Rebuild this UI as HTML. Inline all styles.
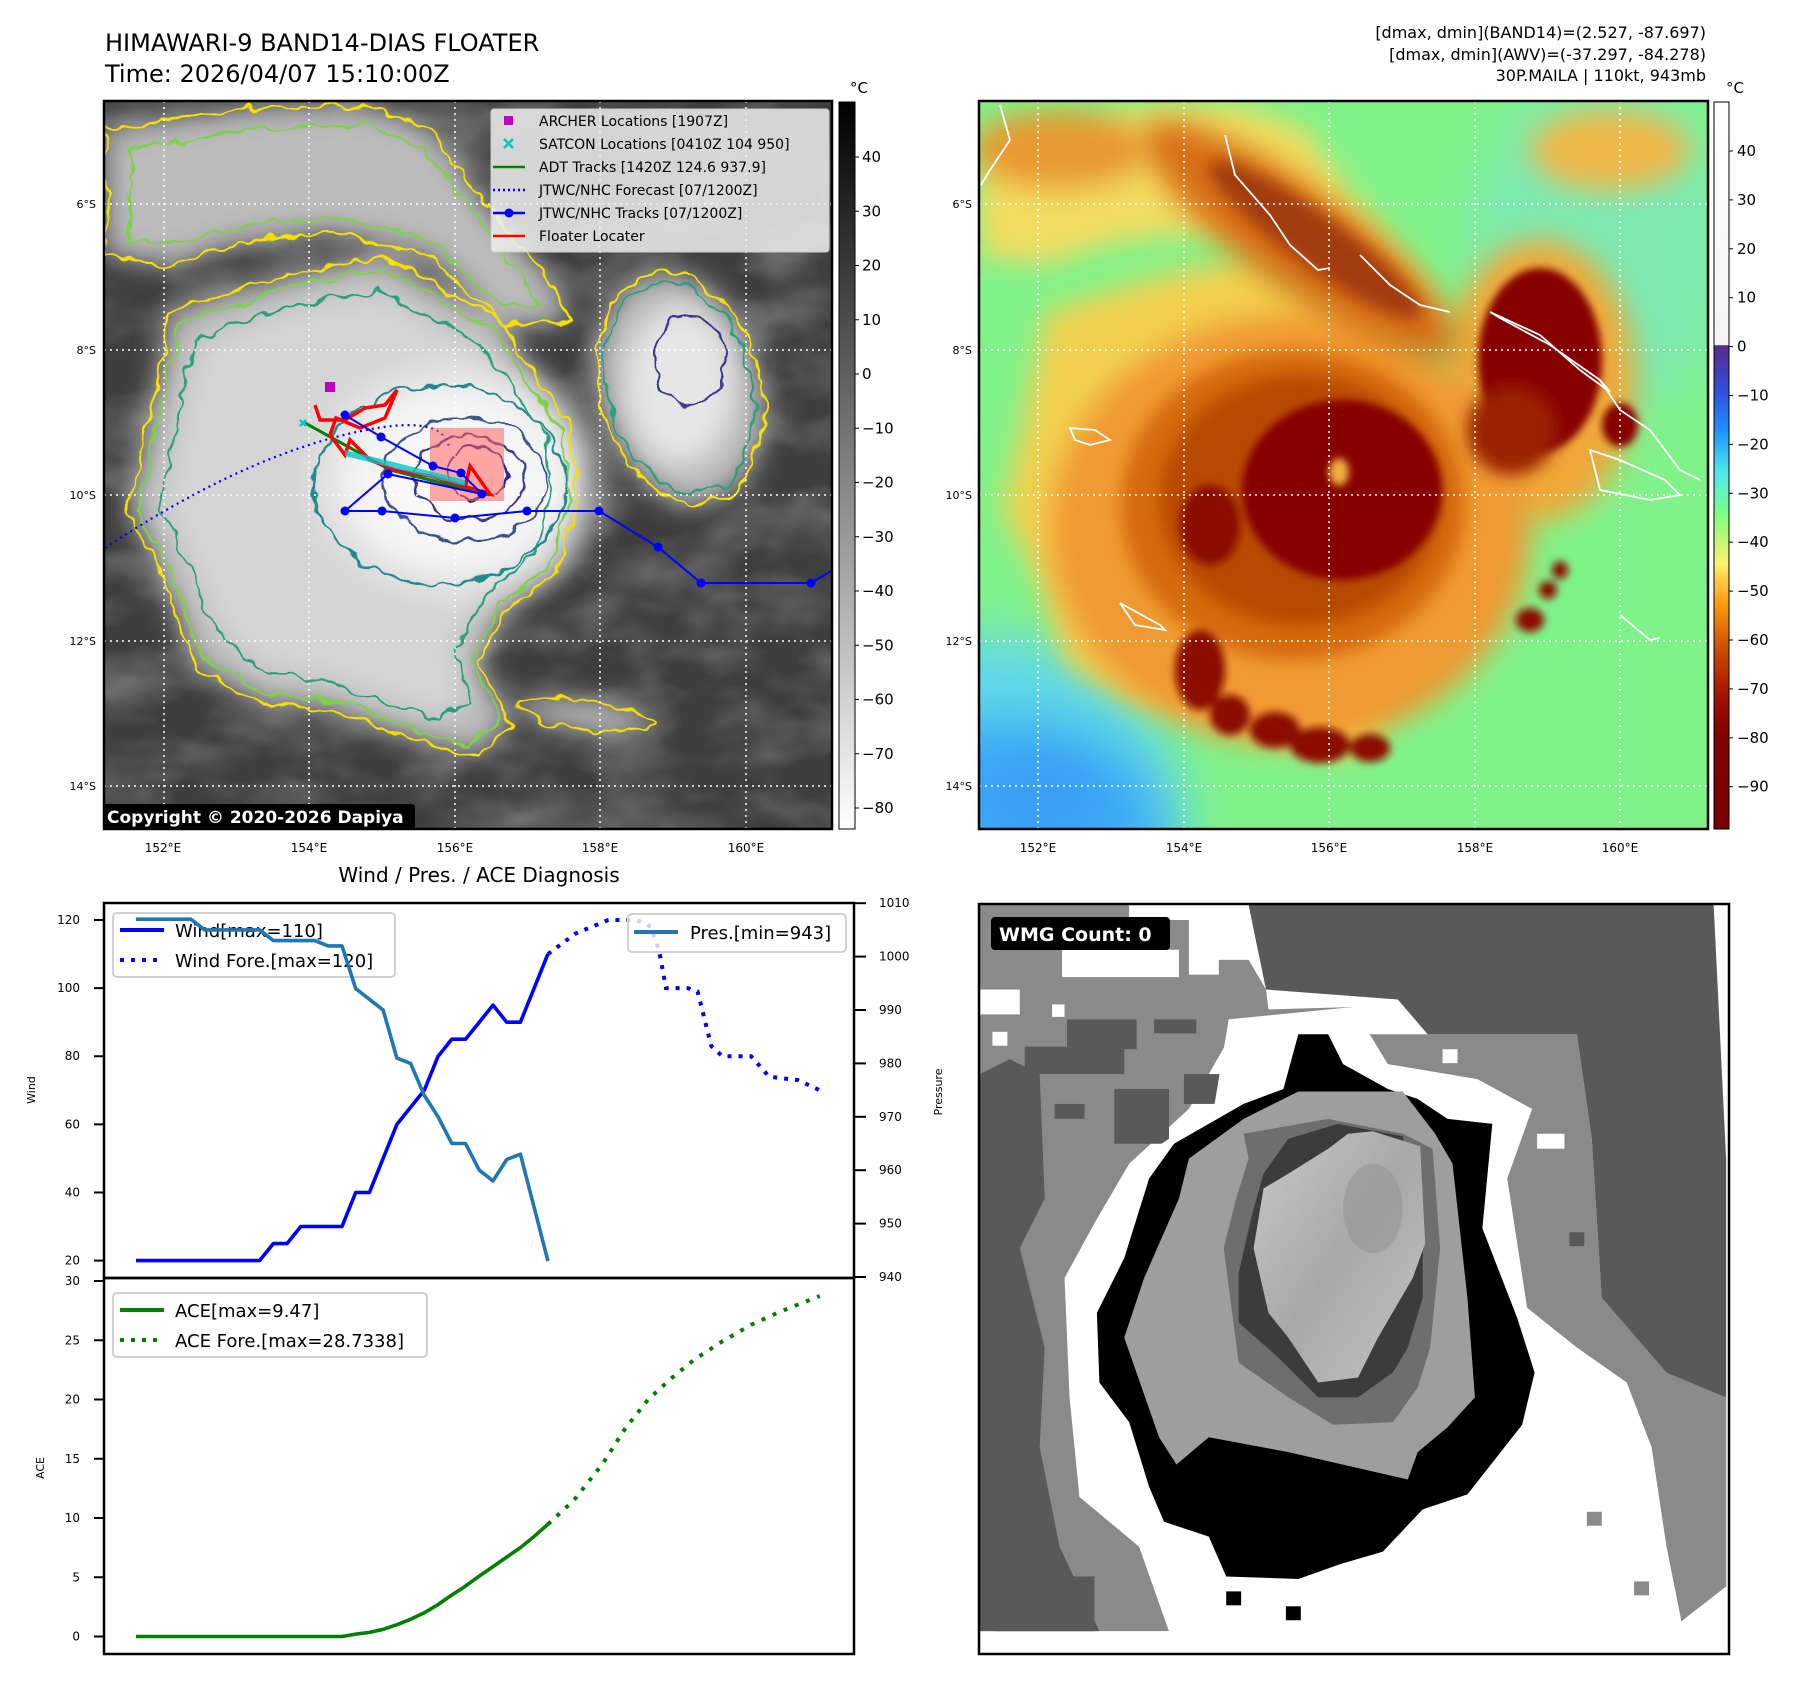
<!DOCTYPE html>
<html><head><meta charset="utf-8"><style>
html,body{margin:0;padding:0;background:#fff;}
svg{display:block;font-family:"DejaVu Sans","Liberation Sans",sans-serif;}
</style></head><body>
<svg id="root" width="1797" height="1690" viewBox="0 0 1797 1690" xmlns="http://www.w3.org/2000/svg">
<defs>
  <clipPath id="clipM1"><rect x="104" y="101" width="728" height="728"/></clipPath>
  <clipPath id="clipM2"><rect x="979" y="101" width="729" height="728"/></clipPath>
  <clipPath id="clipBR"><rect x="979" y="904" width="750" height="750"/></clipPath>
  <filter id="b4" x="-30%" y="-30%" width="160%" height="160%"><feGaussianBlur stdDeviation="4"/></filter>
  <filter id="b8" x="-30%" y="-30%" width="160%" height="160%"><feGaussianBlur stdDeviation="8"/></filter>
  <filter id="b14" x="-40%" y="-40%" width="180%" height="180%"><feGaussianBlur stdDeviation="14"/></filter>
  <filter id="b25" x="-50%" y="-50%" width="200%" height="200%"><feGaussianBlur stdDeviation="25"/></filter>
  <filter id="wig" x="-10%" y="-10%" width="120%" height="120%">
    <feTurbulence type="fractalNoise" baseFrequency="0.05" numOctaves="2" seed="4"/>
    <feDisplacementMap in="SourceGraphic" scale="16" xChannelSelector="R" yChannelSelector="G"/>
  </filter>
  <filter id="tex" x="0" y="0" width="100%" height="100%">
    <feTurbulence type="fractalNoise" baseFrequency="0.012 0.02" numOctaves="3" seed="9"/>
    <feColorMatrix type="matrix" values="0 0 0 0 0.75  0 0 0 0 0.75  0 0 0 0 0.75  0.8 0.8 0 0 -0.65"/>
  </filter>
  <radialGradient id="core1" cx="0.5" cy="0.5" r="0.5">
    <stop offset="0" stop-color="#ffffff"/><stop offset="0.6" stop-color="#f2f2f2"/><stop offset="1" stop-color="#e0e0e0" stop-opacity="0"/>
  </radialGradient>
  <linearGradient id="cb1" x1="0" y1="0" x2="0" y2="1">
    <stop offset="0" stop-color="#000"/><stop offset="1" stop-color="#fff"/>
  </linearGradient>
  <linearGradient id="cb2" x1="0" y1="0" x2="0" y2="1">
    <stop offset="0" stop-color="#ffffff"/><stop offset="0.334" stop-color="#f4f4f4"/>
    <stop offset="0.335" stop-color="#5a2a8c"/><stop offset="0.40" stop-color="#3050e0"/>
    <stop offset="0.45" stop-color="#1e90ff"/><stop offset="0.51" stop-color="#50e8e8"/>
    <stop offset="0.57" stop-color="#80ff80"/><stop offset="0.635" stop-color="#fff070"/>
    <stop offset="0.69" stop-color="#ff9a10"/><stop offset="0.75" stop-color="#d05000"/>
    <stop offset="0.82" stop-color="#a01000"/><stop offset="0.87" stop-color="#800000"/>
    <stop offset="1" stop-color="#7a0000"/>
  </linearGradient>
  <linearGradient id="coreBR" x1="0" y1="0" x2="1" y2="1">
    <stop offset="0" stop-color="#c8c8c8"/><stop offset="0.5" stop-color="#a8a8a8"/><stop offset="1" stop-color="#c4c4c4"/>
  </linearGradient>
</defs>

<!-- ======== TITLES ======== -->
<text x="105" y="51" font-size="24" fill="#000">HIMAWARI-9 BAND14-DIAS FLOATER</text>
<text x="105" y="82" font-size="24" fill="#000">Time: 2026/04/07 15:10:00Z</text>
<g font-size="16" text-anchor="end" fill="#000">
  <text x="1706" y="38">[dmax, dmin](BAND14)=(2.527, -87.697)</text>
  <text x="1706" y="60">[dmax, dmin](AWV)=(-37.297, -84.278)</text>
  <text x="1706" y="81">30P.MAILA | 110kt, 943mb</text>
</g>

<!-- ======== MAP 1 (IR grayscale) ======== -->
<g clip-path="url(#clipM1)">
  <rect x="104" y="101" width="728" height="728" fill="#3e3e3e"/>
  <rect x="104" y="101" width="728" height="728" filter="url(#tex)" opacity="0.5"/>
  <g filter="url(#b14)" fill="#bcbcbc">
    <polygon points="105,128 242,109 364,105 430,128 478,194 548,279 572,322 501,322 430,256 336,232 242,242 171,265 105,256"/>
    <polygon points="171,312 289,275 383,256 501,322 525,364 572,430 577,501 558,572 506,610 478,662 511,723 478,756 407,737 336,709 265,704 194,666 161,572 128,511 147,430 161,364"/>
    <ellipse cx="680" cy="388" rx="80" ry="118" transform="rotate(-15 680 388)"/>
    <ellipse cx="585" cy="715" rx="70" ry="14" transform="rotate(8 585 715)"/>
  </g>
  <g filter="url(#b14)" fill="#d4d4d4">
    <polygon points="200,340 290,305 380,290 480,345 510,385 548,440 552,500 535,555 490,590 455,650 470,700 440,720 380,700 320,680 260,670 215,630 185,560 160,505 175,435 185,380"/>
  </g>
  <ellipse cx="455" cy="480" rx="170" ry="140" fill="url(#core1)" filter="url(#b8)"/>
  <ellipse cx="680" cy="385" rx="55" ry="80" fill="#e6e6e6" filter="url(#b14)"/>
  <!-- contours -->
  <g fill="none" stroke-width="2.2" filter="url(#wig)">
    <polygon stroke="#f5e000" points="105,128 242,109 364,105 430,128 478,194 548,279 572,322 501,322 430,256 336,232 242,242 171,265 105,256"/>
    <polygon stroke="#7ed24a" points="130,150 242,130 364,125 420,145 465,200 530,285 540,305 501,305 430,240 336,218 242,225 171,245 130,240"/>
    <polygon stroke="#f5e000" points="171,312 289,275 383,256 501,322 525,364 572,430 577,501 558,572 506,610 478,662 511,723 478,756 407,737 336,709 265,704 194,666 161,572 128,511 147,430 161,364"/>
    <polygon stroke="#7ed24a" points="180,322 289,287 383,268 495,330 518,370 563,432 568,500 550,566 500,602 470,660 500,718 470,746 407,728 336,700 268,694 202,656 170,570 138,511 156,432 170,368"/>
    <polygon stroke="#2aa07e" points="195,340 290,305 380,290 480,345 510,385 548,440 552,500 535,555 490,590 455,650 470,700 440,720 380,700 320,680 260,670 215,630 185,560 160,505 175,435 185,380"/>
    <ellipse cx="440" cy="485" rx="125" ry="100" stroke="#238a8d"/>
    <ellipse cx="465" cy="480" rx="82" ry="62" stroke="#3b528b"/>
    <ellipse cx="470" cy="478" rx="55" ry="42" stroke="#3b3b8b"/>
    <ellipse cx="478" cy="472" rx="30" ry="26" stroke="#2c2c80"/>
    <ellipse cx="680" cy="388" rx="80" ry="118" transform="rotate(-15 680 388)" stroke="#f5e000"/>
    <ellipse cx="680" cy="388" rx="72" ry="108" transform="rotate(-15 680 388)" stroke="#2aa07e"/>
    <ellipse cx="690" cy="360" rx="35" ry="45" stroke="#3b3b8b"/>
    <ellipse cx="585" cy="715" rx="70" ry="14" transform="rotate(8 585 715)" stroke="#f5e000"/>
  </g>
  <!-- grid -->
  <g stroke="#fff" stroke-width="1.5" stroke-dasharray="2,4">
    <line x1="164" y1="101" x2="164" y2="829"/><line x1="309" y1="101" x2="309" y2="829"/>
    <line x1="455" y1="101" x2="455" y2="829"/><line x1="600" y1="101" x2="600" y2="829"/>
    <line x1="746" y1="101" x2="746" y2="829"/>
    <line x1="104" y1="204" x2="832" y2="204"/><line x1="104" y1="350" x2="832" y2="350"/>
    <line x1="104" y1="495" x2="832" y2="495"/><line x1="104" y1="641" x2="832" y2="641"/>
    <line x1="104" y1="786" x2="832" y2="786"/>
  </g>
  <!-- tracks -->
  <path d="M105,548 Q230,465 336,437 T449,447" fill="none" stroke="#0000ff" stroke-width="2.2" stroke-dasharray="2,4"/>
  <rect x="430" y="428" width="74" height="73" fill="#ff6060" fill-opacity="0.55"/>
  <g fill="none" stroke="#008000" stroke-width="3">
    <path d="M305,423 L345,445 L390,470 L430,480 L470,490 L490,495"/>
  </g>
  <g fill="none" stroke="#ff0000" stroke-width="3.5">
    <path d="M315,405 L320,420 L345,420 L365,408 L385,405 L397,390 L385,418 L360,428 L336,418 L330,435 L345,455 L350,440 L370,460 L395,470 L430,476 L470,488 L490,494 L480,480 L470,466 L465,488"/>
  </g>
  <g fill="#00c8c8">
    <path d="M300,420 l6,6 m0,-6 l-6,6" stroke="#00c8c8" stroke-width="2.5"/>
    <path d="M345,450 l120,30 v6 l-120,-30z" opacity="0.8"/>
  </g>
  <rect x="325" y="382" width="10" height="10" fill="#c000c0"/>
  <g fill="#0000ff">
    <polyline fill="none" stroke="#0000ff" stroke-width="2" points="345,415 381,437 433,466 461,473 482,494 388,474 345,511 382,511 455,518 527,511 599,511 658,547 701,583 811,583 833,570"/>
    <circle cx="345" cy="415" r="4.5"/><circle cx="381" cy="437" r="4.5"/><circle cx="433" cy="466" r="4.5"/>
    <circle cx="461" cy="473" r="4.5"/><circle cx="482" cy="494" r="4.5"/><circle cx="388" cy="474" r="4.5"/>
    <circle cx="345" cy="511" r="4.5"/><circle cx="382" cy="511" r="4.5"/><circle cx="455" cy="518" r="4.5"/>
    <circle cx="527" cy="511" r="4.5"/><circle cx="599" cy="511" r="4.5"/><circle cx="658" cy="547" r="4.5"/>
    <circle cx="701" cy="583" r="4.5"/><circle cx="811" cy="583" r="4.5"/>
  </g>
  <!-- legend -->
  <g>
    <rect x="491" y="109" width="338" height="143" rx="3" fill="#eeeeee" fill-opacity="0.85" stroke="#cccccc"/>
    <rect x="504" y="116" width="9" height="9" fill="#c000c0"/>
    <path d="M504,139 l9,9 m0,-9 l-9,9" stroke="#00c8c8" stroke-width="2.5"/>
    <line x1="493" y1="167" x2="525" y2="167" stroke="#008000" stroke-width="2.5"/>
    <line x1="493" y1="190" x2="525" y2="190" stroke="#0000ff" stroke-width="2.5" stroke-dasharray="2,3"/>
    <line x1="493" y1="213" x2="525" y2="213" stroke="#0000ff" stroke-width="2.5"/><circle cx="509" cy="213" r="4.5" fill="#0000ff"/>
    <line x1="493" y1="236" x2="525" y2="236" stroke="#ff0000" stroke-width="2.5"/>
    <g font-size="14" fill="#000">
      <text x="539" y="126">ARCHER Locations [1907Z]</text>
      <text x="539" y="149">SATCON Locations [0410Z 104 950]</text>
      <text x="539" y="172">ADT Tracks [1420Z 124.6 937.9]</text>
      <text x="539" y="195">JTWC/NHC Forecast [07/1200Z]</text>
      <text x="539" y="218">JTWC/NHC Tracks [07/1200Z]</text>
      <text x="539" y="241">Floater Locater</text>
    </g>
  </g>
  <rect x="102" y="804" width="313" height="26" rx="3" fill="#000"/>
  <text x="107" y="823" font-size="17" font-weight="bold" fill="#fff">Copyright © 2020-2026 Dapiya</text>
</g>
<rect x="104" y="101" width="728" height="728" fill="none" stroke="#000" stroke-width="2.5"/>

<g font-size="11" fill="#000" text-anchor="end">
  <text x="96" y="208">6°S</text><text x="96" y="354">8°S</text><text x="96" y="499">10°S</text><text x="96" y="645">12°S</text><text x="96" y="790">14°S</text>
</g>
<g font-size="12" fill="#000" text-anchor="middle">
  <text x="163" y="852">152°E</text><text x="309" y="852">154°E</text><text x="455" y="852">156°E</text><text x="600" y="852">158°E</text><text x="746" y="852">160°E</text>
</g>

<g>
  <rect x="839" y="102" width="16" height="727" fill="url(#cb1)" stroke="#000" stroke-width="1"/>
  <text x="850" y="93" font-size="15">°C</text>
  <g font-size="15" fill="#000" id="cb1labels"></g>
</g>

<!-- ======== MAP 2 (color enhanced) ======== -->
<g clip-path="url(#clipM2)">
  <rect x="979" y="101" width="729" height="728" fill="#80f28a"/>
  <ellipse cx="1600" cy="250" rx="130" ry="170" fill="#7ee8b0" filter="url(#b25)"/>
  <ellipse cx="985" cy="835" rx="200" ry="200" fill="#60d8e8" filter="url(#b25)"/>
  <ellipse cx="1010" cy="830" rx="150" ry="110" fill="#3aa8f5" filter="url(#b25)"/>
  <ellipse cx="1040" cy="800" rx="60" ry="40" fill="#3aa0f5" filter="url(#b14)"/>
  <g filter="url(#b14)">
    <polygon fill="#f2dc60" points="979,128 1116,109 1238,105 1304,128 1352,194 1422,279 1446,322 1375,322 1304,256 1210,232 1116,242 1045,265 979,256"/>
    <polygon fill="#f2d050" points="1045,312 1163,275 1257,256 1375,322 1399,364 1446,430 1451,501 1432,572 1380,610 1352,662 1385,723 1352,756 1281,737 1210,709 1139,704 1068,666 1035,572 1002,511 1021,430 1035,364"/>
    <ellipse cx="1540" cy="380" rx="95" ry="140" fill="#f0a838"/>
    <ellipse cx="1610" cy="150" rx="80" ry="40" fill="#f0b848"/>
    <ellipse cx="1060" cy="150" rx="90" ry="40" fill="#e89a30"/>
  </g>
  <ellipse cx="1290" cy="530" rx="240" ry="215" fill="#f09a30" filter="url(#b14)"/>
  <ellipse cx="1300" cy="240" rx="190" ry="50" transform="rotate(36 1300 240)" fill="#d87018" filter="url(#b14)"/>
  <ellipse cx="1315" cy="240" rx="130" ry="26" transform="rotate(36 1315 240)" fill="#a23a08" filter="url(#b8)"/>
  <ellipse cx="1293" cy="505" rx="172" ry="155" fill="#d66a10" filter="url(#b8)"/>
  <ellipse cx="1300" cy="500" rx="140" ry="125" fill="#b84800" filter="url(#b8)"/>
  <ellipse cx="1342" cy="490" rx="100" ry="90" fill="#860000" filter="url(#b4)"/>
  <ellipse cx="1210" cy="525" rx="30" ry="40" fill="#8a0a00" filter="url(#b4)"/>
  <ellipse cx="1339" cy="472" rx="10" ry="14" fill="#f0b040" filter="url(#b4)"/>
  <ellipse cx="1540" cy="360" rx="62" ry="92" fill="#860000" filter="url(#b4)"/>
  <ellipse cx="1512" cy="430" rx="45" ry="45" fill="#9a2000" filter="url(#b8)"/>
  <ellipse cx="1620" cy="425" rx="18" ry="22" fill="#860000" filter="url(#b4)"/>
  <g fill="#8a0a00" filter="url(#b4)">
    <ellipse cx="1200" cy="670" rx="25" ry="40"/>
    <ellipse cx="1230" cy="715" rx="20" ry="20"/>
    <ellipse cx="1275" cy="730" rx="25" ry="18"/>
    <ellipse cx="1320" cy="745" rx="30" ry="18"/>
    <ellipse cx="1370" cy="748" rx="20" ry="14"/>
    <ellipse cx="1560" cy="570" rx="8" ry="9"/><ellipse cx="1548" cy="590" rx="9" ry="9"/><ellipse cx="1530" cy="620" rx="14" ry="12"/>
  </g>
  <g fill="none" stroke="#fff" stroke-width="1.8">
    <path d="M1225,135 L1235,175 L1270,215 L1290,245 L1318,270 L1330,268"/>
    <path d="M1360,255 L1390,285 L1420,305 L1450,312"/>
    <path d="M1490,312 L1540,335 L1580,370 L1610,392 L1600,380 L1550,345 L1500,318z"/>
    <path d="M1600,380 L1620,410 L1650,430 L1680,470 L1700,480"/>
    <path d="M1590,450 L1620,460 L1665,480 L1680,495 L1650,500 L1600,490z"/>
    <path d="M1070,428 L1095,430 L1110,440 L1090,445 L1075,440z"/>
    <path d="M1120,603 L1160,625 L1165,630 L1135,625z"/>
    <path d="M1000,105 L1010,140 L990,170 L981,185"/>
    <path d="M1620,615 L1650,640 L1660,638"/>
  </g>
  <g stroke="#fff" stroke-width="1.5" stroke-dasharray="2,4">
    <line x1="1038" y1="101" x2="1038" y2="829"/><line x1="1184" y1="101" x2="1184" y2="829"/>
    <line x1="1329" y1="101" x2="1329" y2="829"/><line x1="1475" y1="101" x2="1475" y2="829"/>
    <line x1="1620" y1="101" x2="1620" y2="829"/>
    <line x1="979" y1="204" x2="1708" y2="204"/><line x1="979" y1="350" x2="1708" y2="350"/>
    <line x1="979" y1="495" x2="1708" y2="495"/><line x1="979" y1="641" x2="1708" y2="641"/>
    <line x1="979" y1="786" x2="1708" y2="786"/>
  </g>
</g>
<rect x="979" y="101" width="729" height="728" fill="none" stroke="#000" stroke-width="2.5"/>
<g font-size="11" fill="#000" text-anchor="end">
  <text x="972" y="208">6°S</text><text x="972" y="354">8°S</text><text x="972" y="499">10°S</text><text x="972" y="645">12°S</text><text x="972" y="790">14°S</text>
</g>
<g font-size="12" fill="#000" text-anchor="middle">
  <text x="1038" y="852">152°E</text><text x="1184" y="852">154°E</text><text x="1329" y="852">156°E</text><text x="1475" y="852">158°E</text><text x="1620" y="852">160°E</text>
</g>
<g>
  <rect x="1714" y="102" width="15" height="727" fill="url(#cb2)" stroke="#000" stroke-width="1"/>
  <text x="1726" y="93" font-size="15">°C</text>
  <g font-size="15" fill="#000" id="cb2labels"></g>
</g>

<!-- ======== BOTTOM-RIGHT WMG PANEL ======== -->
<g clip-path="url(#clipBR)">
<g transform="translate(980,900) scale(0.4974)">
  <rect x="0" y="0" width="1520" height="1520" fill="#ffffff"/>
  <polygon fill="#8a8a8a" points="0,10 300,10 300,40 420,40 420,150 480,150 480,120 540,120 575,180 580,220 750,215 780,270 900,270 1200,270 1230,480 1250,800 1380,950 1410,1000 1500,1000 1500,1380 1410,1450 1380,1300 1350,1100 1300,970 1200,900 1100,820 1060,700 1050,480 1000,380 900,360 700,290 600,270 500,280 420,420 300,530 230,650 170,760 180,1000 200,1200 320,1300 380,1470 0,1470"/>
  <polygon fill="#595959" points="540,10 1475,10 1500,520 1500,1000 1410,1000 1380,950 1250,800 1230,480 1200,270 900,270 840,200 575,180"/>
  <polygon fill="#595959" points="0,350 60,320 120,350 130,600 80,700 130,900 120,1100 160,1300 240,1470 0,1470"/>
  <g fill="#595959">
    <rect x="350" y="240" width="85" height="28"/><rect x="410" y="350" width="145" height="60"/>
    <rect x="270" y="380" width="110" height="110"/><rect x="150" y="410" width="60" height="30"/>
    <rect x="90" y="295" width="200" height="55"/><rect x="175" y="240" width="140" height="60"/>
    <rect x="30" y="1360" width="200" height="110"/><rect x="1185" y="668" width="30" height="28"/>
  </g>
  <g fill="#ffffff">
    <rect x="165" y="100" width="235" height="55"/><rect x="300" y="10" width="120" height="30"/>
    <rect x="480" y="10" width="60" height="110"/><rect x="0" y="180" width="80" height="50"/>
    <rect x="145" y="210" width="25" height="25"/><rect x="25" y="265" width="30" height="28"/>
    <rect x="930" y="300" width="30" height="28"/><rect x="1120" y="470" width="55" height="30"/>
  </g>
  <polygon fill="#ffffff" points="500,240 750,215 820,330 1000,360 1110,420 1060,560 1100,820 1200,900 1300,970 1350,1100 1380,1300 1410,1450 380,1470 320,1300 200,1200 180,900 230,650 350,500 470,420"/>
  <g fill="#8a8a8a">
    <rect x="1220" y="1230" width="30" height="28"/><rect x="1315" y="1370" width="30" height="28"/>
    <polygon points="1380,950 1500,1000 1500,1380 1410,1450 1400,1300 1380,1100"/>
  </g>
  <polygon fill="#000" points="640,270 700,270 730,330 820,380 880,400 940,440 1030,450 1010,660 1080,840 1115,950 1090,1055 980,1195 890,1225 810,1310 725,1335 640,1365 495,1360 460,1280 370,1250 340,1180 300,1050 240,970 235,830 290,720 340,560 390,490 530,410 610,380"/>
  <rect x="495" y="1390" width="30" height="28" fill="#000"/><rect x="615" y="1420" width="30" height="28" fill="#000"/>
  <polygon fill="#9e9e9e" points="530,440 640,385 850,385 915,470 950,530 980,800 995,1000 940,1060 880,1110 860,1165 620,1110 460,1080 395,1135 360,1080 290,880 330,760 400,600 420,520"/>
  <polygon fill="#6e6e6e" points="530,470 700,440 850,470 910,500 925,700 905,900 880,980 830,1050 710,1055 620,1000 520,930 490,700 515,600 540,520"/>
  <polygon fill="#3c3c3c" points="620,480 720,450 850,475 890,700 890,800 860,900 830,950 760,1000 680,1000 600,920 520,850 520,750 545,640 570,550"/>
  <polygon fill="url(#coreBR)" points="570,580 620,550 700,500 740,470 790,465 885,495 895,690 870,760 800,880 760,960 680,970 620,880 580,830 550,700"/>
  <ellipse cx="790" cy="620" rx="60" ry="90" fill="#999" opacity="0.7"/>
</g>
</g>
<rect x="979" y="904" width="750" height="750" fill="none" stroke="#000" stroke-width="2.5"/>
<rect x="991" y="917" width="179" height="33" rx="4" fill="#000"/>
<text x="999" y="941" font-size="19" font-weight="bold" fill="#fff">WMG Count: 0</text>

<!-- ======== WIND / PRES / ACE CHART ======== -->
<text x="479" y="882" font-size="20" text-anchor="middle" fill="#000">Wind / Pres. / ACE Diagnosis</text>
<g id="chart"></g>
</svg>

<script>
// ---- chart data ----
const obsSteps = [0,1,2,3,4,5,6,7,8,9,10,11,12,13,14,15,16,17,18,19,20,21,22,23,24,25,26,27,28,29,30];
const windObs = [20,20,20,20,20,20,20,20,20,20,25,25,30,30,30,30,40,40,50,60,65,70,80,85,85,90,95,90,90,100,110];
const presObs = [1007,1007,1007,1007,1007,1005,1005,1005,1005,1005,1003,1003,1003,1003,1002,1002,994,992,990,981,980,974,970,965,965,960,958,962,963,953,943];
const aceObs = [0,0,0,0,0,0,0,0,0,0,0,0,0,0,0,0,0.2,0.35,0.6,1.0,1.45,2.0,2.7,3.5,4.25,5.1,5.9,6.7,7.5,8.45,9.47];
const windForeSteps = [30,32,34.4,36.5,37.5,38.1,38.6,40.2,40.9,41.9,42.7,44.8,46.1,48.2,49.8];
const windFore = [110,116,120,120,118,111,100,100,99,83,80,80,74,73,70];
const aceForeSteps = [30,31.9,34,35.6,37.3,39,40.7,42.7,44.8,46.9,49.8];
const aceFore = [9.47,11.5,14.6,17.5,20,21.8,23.4,24.9,26.3,27.4,28.73];
const windTicks = [20,40,60,80,100,120];
const presTicks = [940,950,960,970,980,990,1000,1010];
const aceTicks = [0,5,10,15,20,25,30];
const irCbTicks = [40,30,20,10,0,-10,-20,-30,-40,-50,-60,-70,-80];
const awvCbTicks = [40,30,20,10,0,-10,-20,-30,-40,-50,-60,-70,-80,-90];

const NS = 'http://www.w3.org/2000/svg';
function mk(tag, attrs, parent){ const e=document.createElementNS(NS,tag); for(const k in attrs) e.setAttribute(k,attrs[k]); parent.appendChild(e); return e; }

const L=104, R=854, T=903, MID=1278, B=1654;
const xS = i => 136 + i*13.73;
const yWind = v => 1260.6 - (v-20)*3.406;
const yPres = p => 1277 - (p-940)*5.34;
const yAce = a => 1636.5 - a*11.85;

const chart = document.getElementById('chart');
mk('rect',{x:L,y:T,width:R-L,height:B-T,fill:'#fff'},chart);

function pts(xs, ys, fx, fy){ return xs.map((t,i)=>fx(t).toFixed(1)+','+fy(ys[i]).toFixed(1)).join(' '); }

windTicks.forEach(v=>{
  const y=yWind(v);
  const t=mk('line',{x1:L-10,y1:y,x2:L,y2:y,stroke:'#000','stroke-width':2},chart);
  
  
  const tx=mk('text',{x:L-24,y:y+4,'font-size':12,'text-anchor':'end'},chart); tx.textContent=v;
  
  
});
presTicks.forEach(v=>{
  const y=yPres(v);
  const t=mk('line',{x1:R,y1:y,x2:R+12,y2:y,stroke:'#000','stroke-width':2},chart);
  
  
  const tx=mk('text',{x:R+25,y:y+4,'font-size':12},chart); tx.textContent=v;
  
  
});
aceTicks.forEach(v=>{
  const y=yAce(v);
  const t=mk('line',{x1:L-10,y1:y,x2:L,y2:y,stroke:'#000','stroke-width':2},chart);
  
  
  const tx=mk('text',{x:L-24,y:y+4,'font-size':12,'text-anchor':'end'},chart); tx.textContent=v;
  
  
});
let al=mk('text',{x:0,y:0,'font-size':11,'text-anchor':'middle',transform:'translate(35,1090) rotate(-90)'},chart); al.textContent='Wind';


al=mk('text',{x:0,y:0,'font-size':11,'text-anchor':'middle',transform:'translate(942,1092) rotate(-90)'},chart); al.textContent='Pressure';


al=mk('text',{x:0,y:0,'font-size':11,'text-anchor':'middle',transform:'translate(44,1468) rotate(-90)'},chart); al.textContent='ACE';



let ln=mk('polyline',{points:pts(obsSteps,windObs,xS,yWind),fill:'none',stroke:'#0000ff','stroke-width':3.6,'stroke-linejoin':'round'},chart);


ln=mk('polyline',{points:pts(windForeSteps,windFore,xS,yWind),fill:'none',stroke:'#0000ff','stroke-width':4,'stroke-dasharray':'4,7'},chart);



let lg=mk('g',{},chart);


mk('rect',{x:113,y:913,width:282,height:64,rx:4,fill:'#fff','fill-opacity':0.8,stroke:'#d0d0d0','stroke-width':2},lg);
mk('line',{x1:120,y1:930,x2:164,y2:930,stroke:'#0000ff','stroke-width':4},lg);
mk('line',{x1:120,y1:960,x2:164,y2:960,stroke:'#0000ff','stroke-width':4,'stroke-dasharray':'4,7'},lg);
let tt=mk('text',{x:175,y:937,'font-size':18},lg); tt.textContent='Wind[max=110]';
tt=mk('text',{x:175,y:967,'font-size':18},lg); tt.textContent='Wind Fore.[max=120]';

ln=mk('polyline',{points:pts(obsSteps,presObs,xS,yPres),fill:'none',stroke:'#1f77b4','stroke-width':3.6,'stroke-linejoin':'round'},chart);


lg=mk('g',{},chart);


mk('rect',{x:628,y:914,width:218,height:38,rx:4,fill:'#fff','fill-opacity':0.8,stroke:'#d0d0d0','stroke-width':2},lg);
mk('line',{x1:634,y1:932,x2:678,y2:932,stroke:'#1f77b4','stroke-width':4},lg);
tt=mk('text',{x:690,y:939,'font-size':18},lg); tt.textContent='Pres.[min=943]';

ln=mk('polyline',{points:pts(obsSteps,aceObs,xS,yAce),fill:'none',stroke:'#008000','stroke-width':3.6,'stroke-linejoin':'round'},chart);


ln=mk('polyline',{points:pts(aceForeSteps,aceFore,xS,yAce),fill:'none',stroke:'#008000','stroke-width':4,'stroke-dasharray':'4,8'},chart);


lg=mk('g',{},chart);


mk('rect',{x:113,y:1293,width:314,height:64,rx:4,fill:'#fff','fill-opacity':0.8,stroke:'#d0d0d0','stroke-width':2},lg);
mk('line',{x1:120,y1:1310,x2:164,y2:1310,stroke:'#008000','stroke-width':4},lg);
mk('line',{x1:120,y1:1340,x2:164,y2:1340,stroke:'#008000','stroke-width':4,'stroke-dasharray':'4,7'},lg);
tt=mk('text',{x:175,y:1317,'font-size':18},lg); tt.textContent='ACE[max=9.47]';
tt=mk('text',{x:175,y:1347,'font-size':18},lg); tt.textContent='ACE Fore.[max=28.7338]';

let fr=mk('rect',{x:L,y:T,width:R-L,height:MID-T,fill:'none',stroke:'#000','stroke-width':2.5},chart);


fr=mk('rect',{x:L,y:MID,width:R-L,height:B-MID,fill:'none',stroke:'#000','stroke-width':2.5},chart);



const cb1=document.getElementById('cb1labels');
irCbTicks.forEach(v=>{
  const y=157+(40-v)*5.425;
  mk('line',{x1:855,y1:y,x2:859,y2:y,stroke:'#000'},cb1);
  const t=mk('text',{x:862,y:y+5},cb1); t.textContent=(v<0?'\u2212'+(-v):v);
  
  
});
const cb2=document.getElementById('cb2labels');
awvCbTicks.forEach(v=>{
  const y=151+(40-v)*4.89;
  mk('line',{x1:1729,y1:y,x2:1733,y2:y,stroke:'#000'},cb2);
  const t=mk('text',{x:1737,y:y+5},cb2); t.textContent=(v<0?'\u2212'+(-v):v);
  
  
});
</script>
</body></html>
